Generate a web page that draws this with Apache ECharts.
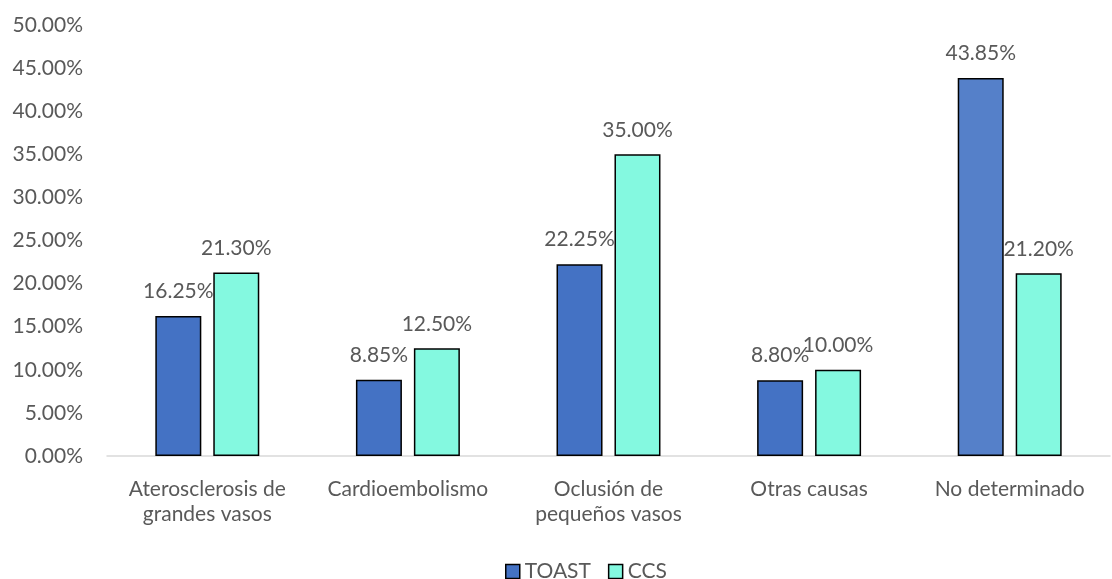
<!DOCTYPE html>
<html>
<head>
<meta charset="utf-8">
<script src="https://cdn.jsdelivr.net/npm/echarts@6/dist/echarts.min.js"></script>
<style>
  html, body { margin: 0; padding: 0; background: #fff; }
  #chart { width: 1112px; height: 579px; }
</style>
</head>
<body>
<div id="chart"></div>
<script>
const categories = [
  'Aterosclerosis de\ngrandes vasos',
  'Cardioembolismo',
  'Oclusión de\npequeños vasos',
  'Otras causas',
  'No determinado'
];
const toastValues = [16.25, 8.85, 22.25, 8.80, 43.85];
const ccsValues = [21.30, 12.50, 35.00, 10.00, 21.20];
const yTicks = [0, 5, 10, 15, 20, 25, 30, 35, 40, 45, 50];

const FONT = 'Lato, "Open Sans", sans-serif';
const FS = 21;
const TEXT = '#595959';
const TOAST_COLOR = '#4472C4';
const TOAST_LAST = '#5580C9';
const CCS_COLOR = '#84F9E0';

const chart = echarts.init(document.getElementById('chart'), null, { renderer: 'canvas' });

const pct = v => v.toFixed(2) + '%';

chart.setOption({
  animation: false,
  backgroundColor: '#ffffff',
  textStyle: { fontFamily: FONT },
  grid: { left: 107, right: 2, top: 25, bottom: 123, containLabel: false },
  legend: {
    top: 556,
    left: 500,
    itemWidth: 14,
    itemHeight: 14,
    itemGap: 17,
    icon: 'rect',
    textStyle: { color: TEXT, fontSize: FS, fontFamily: FONT, padding: [0, 0, 0, 0] },
    data: [
      { name: 'TOAST', itemStyle: { color: TOAST_COLOR, borderColor: '#000', borderWidth: 1.5 } },
      { name: 'CCS', itemStyle: { color: CCS_COLOR, borderColor: '#000', borderWidth: 1.5 } }
    ]
  },
  xAxis: {
    type: 'category',
    data: categories,
    axisLine: { lineStyle: { color: '#d9d9d9', width: 1.5 } },
    axisTick: { show: false },
    axisLabel: { color: TEXT, fontSize: FS, fontFamily: FONT, lineHeight: 25, margin: 21, interval: 0 }
  },
  yAxis: {
    type: 'value',
    min: yTicks[0],
    max: yTicks[yTicks.length - 1],
    interval: yTicks[1] - yTicks[0],
    axisLine: { show: false },
    axisTick: { show: false },
    splitLine: { show: false },
    axisLabel: { color: TEXT, fontSize: FS, fontFamily: FONT, margin: 24, formatter: v => pct(v) }
  },
  series: [
    {
      name: 'TOAST',
      type: 'bar',
      barWidth: 46,
      barGap: '26%',
      data: toastValues.map((v, i) => ({
        value: v,
        itemStyle: { color: i === toastValues.length - 1 ? TOAST_LAST : TOAST_COLOR }
      })),
      itemStyle: { color: TOAST_COLOR, borderColor: '#000', borderWidth: 1.5 },
      label: {
        show: true, position: 'top', distance: 14,
        color: TEXT, fontSize: FS, fontFamily: FONT,
        formatter: p => pct(p.value)
      }
    },
    {
      name: 'CCS',
      type: 'bar',
      barWidth: 46,
      data: ccsValues,
      itemStyle: { color: CCS_COLOR, borderColor: '#000', borderWidth: 1.5 },
      label: {
        show: true, position: 'top', distance: 14,
        color: TEXT, fontSize: FS, fontFamily: FONT,
        formatter: p => pct(p.value)
      }
    }
  ]
});
</script>
</body>
</html>
